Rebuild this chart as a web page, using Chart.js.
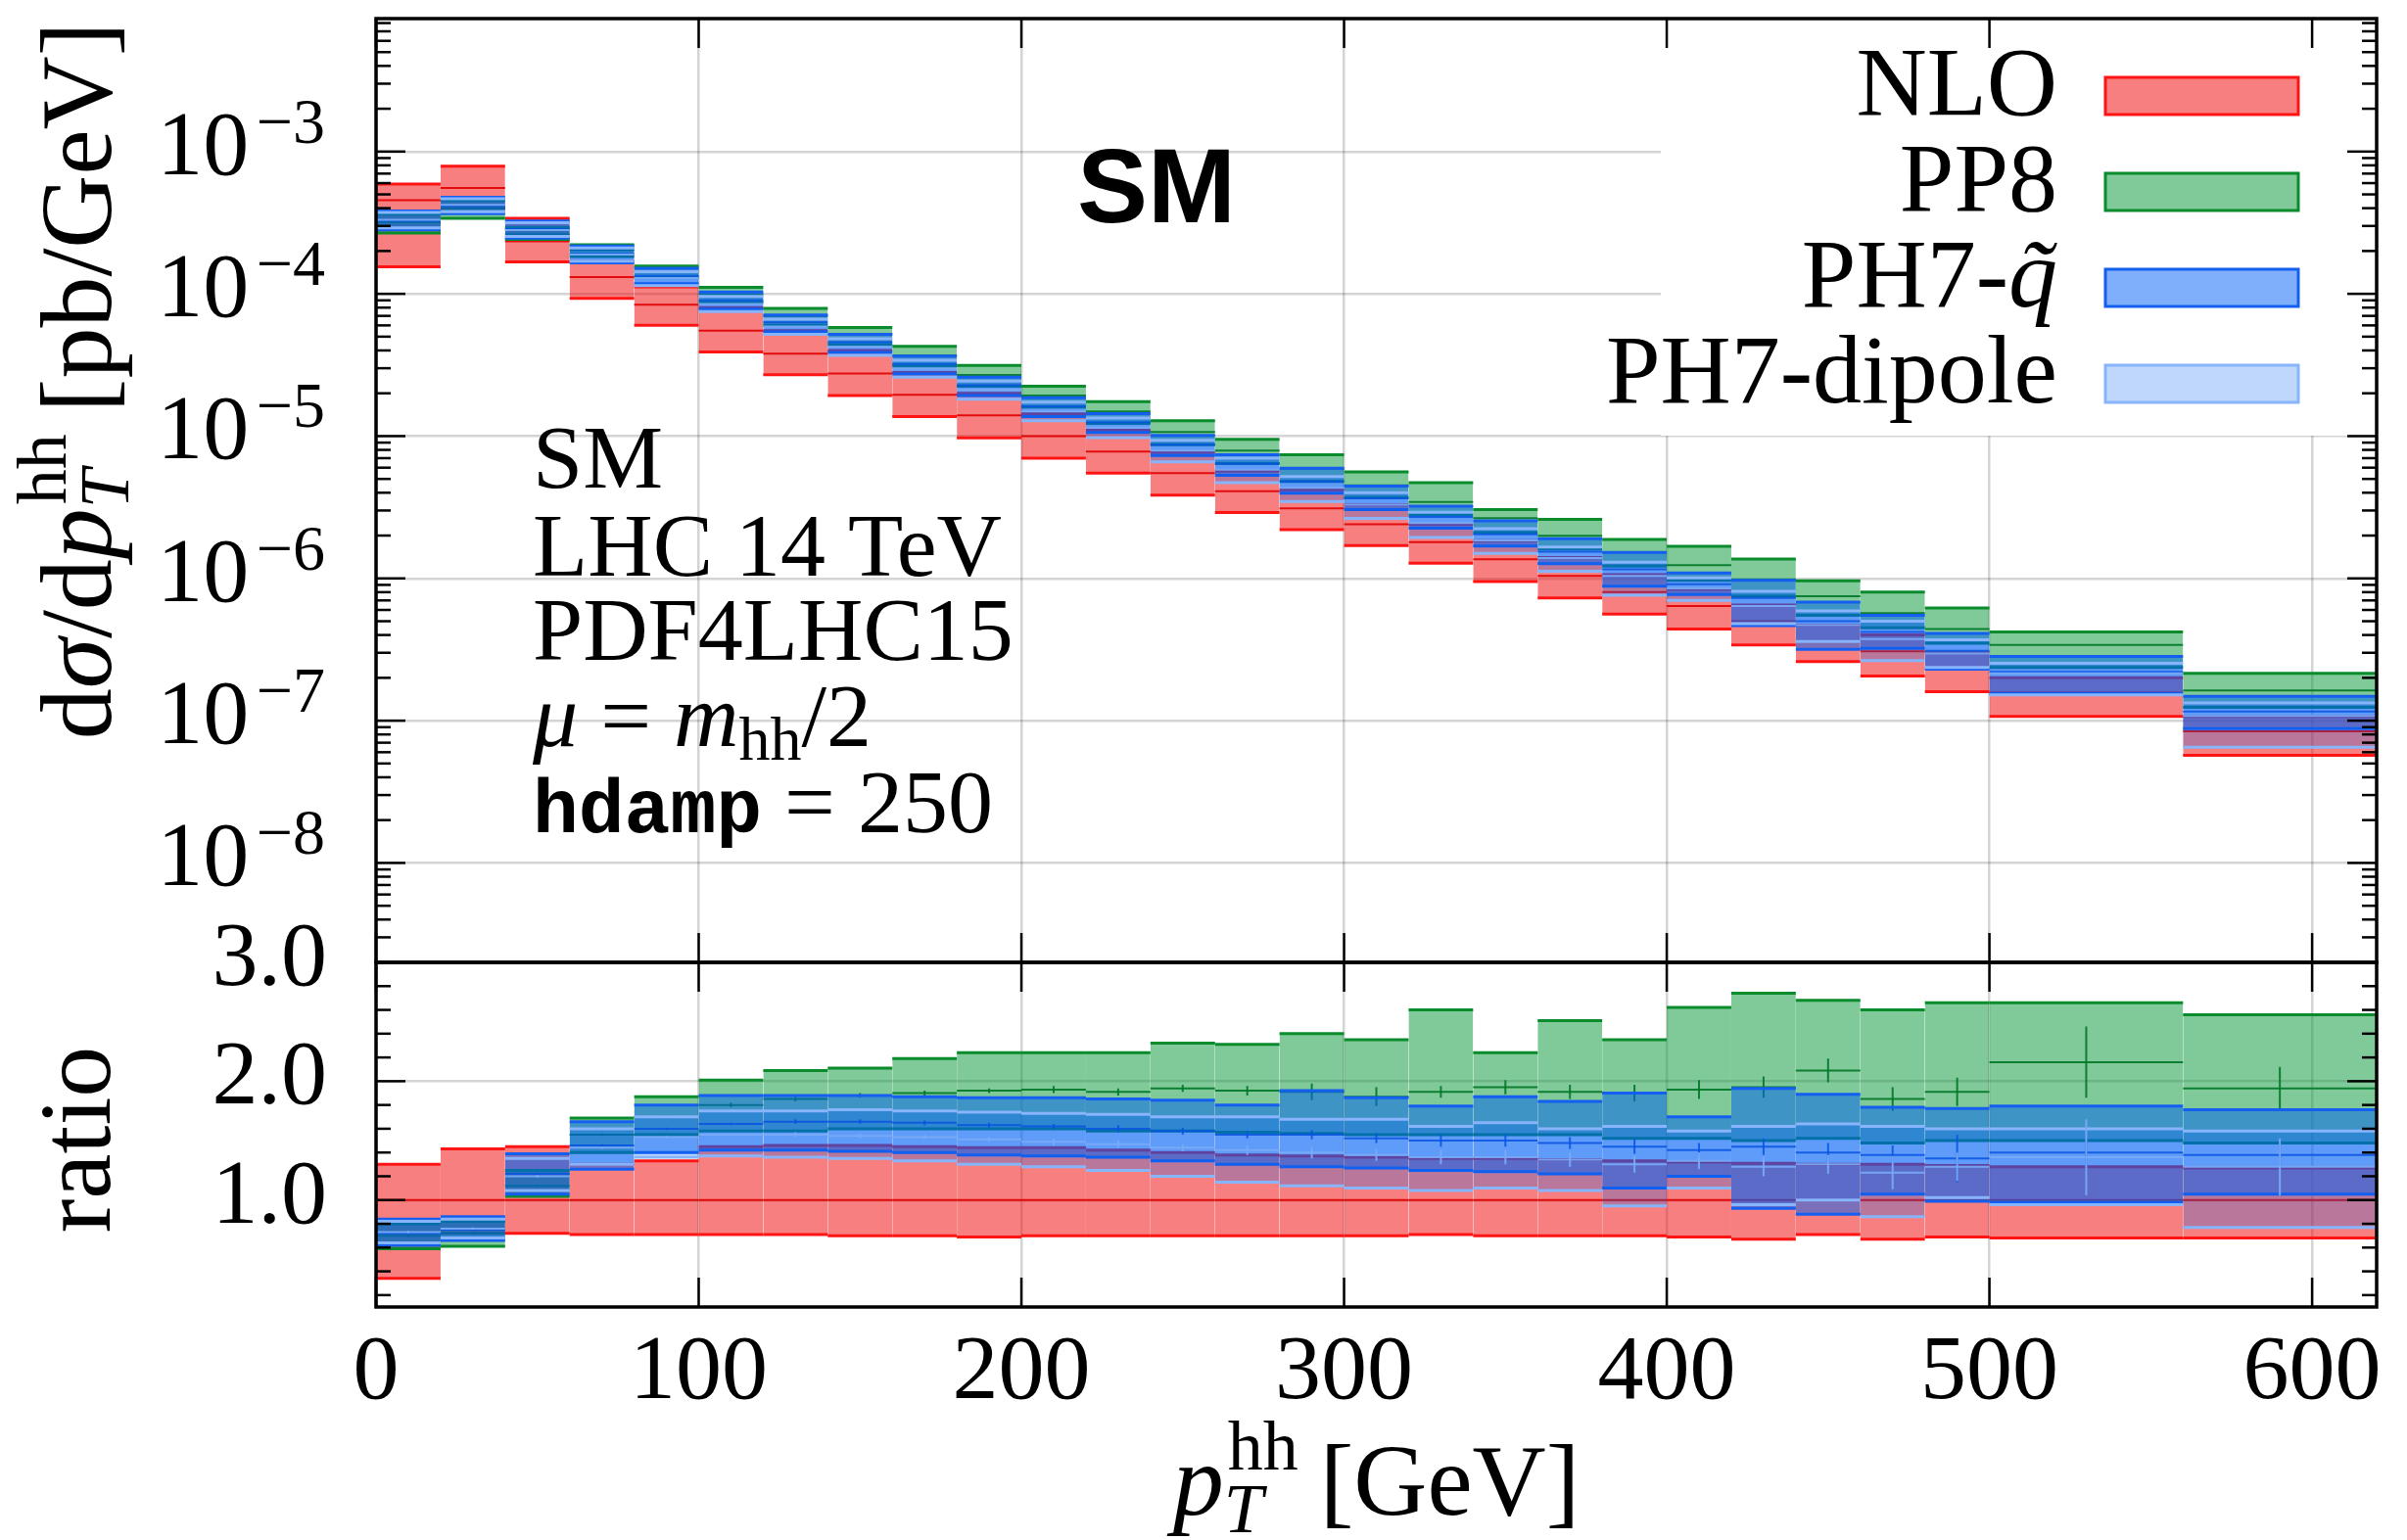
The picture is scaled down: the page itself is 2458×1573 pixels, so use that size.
<!DOCTYPE html>
<html>
<head>
<meta charset="utf-8">
<script src="https://cdn.jsdelivr.net/npm/chart.js@4.4.1/dist/chart.umd.min.js"></script>
<style>
  html, body { margin: 0; padding: 0; background: #fff; }
  #wrap { width: 2458px; height: 1573px; }
</style>
</head>
<body>
<div id="wrap"><canvas id="chart"></canvas></div>
<script>
// bin edges in GeV (27 bins)
const binEdges = [0,20,40,60,80,100,120,140,160,180,200,220,240,260,280,300,320,340,360,380,400,420,440,460,480,500,560,620];

// upper panel: dsigma/dpT [pb/GeV]
const nloCentral = [4.55e-4,5.55e-4,2.34e-4,1.31e-4,8.4e-5,5.5e-5,3.8e-5,2.75e-5,1.95e-5,1.4e-5,1.0e-5,7.8e-6,5.5e-6,4.1e-6,3.1e-6,2.4e-6,1.8e-6,1.36e-6,1.04e-6,8.0e-7,6.4e-7,5.0e-7,3.6e-7,3.07e-7,2.32e-7,1.58e-7,8.4e-8];
const nloUp      = [5.9e-4,7.9e-4,3.4e-4,1.7e-4,1.12e-4,8.0e-5,5.5e-5,4.0e-5,2.8e-5,2.0e-5,1.44e-5,1.1e-5,7.7e-6,5.7e-6,4.2e-6,3.3e-6,2.4e-6,1.84e-6,1.4e-6,1.06e-6,8.4e-7,6.5e-7,4.7e-7,4.0e-7,3.0e-7,2.0e-7,1.07e-7];
const nloDown    = [1.55e-4,4.0e-4,1.68e-4,9.3e-5,6.0e-5,3.9e-5,2.7e-5,1.93e-5,1.37e-5,9.7e-6,7.0e-6,5.5e-6,3.85e-6,2.9e-6,2.2e-6,1.7e-6,1.28e-6,9.5e-7,7.3e-7,5.6e-7,4.4e-7,3.4e-7,2.6e-7,2.06e-7,1.6e-7,1.07e-7,5.7e-8];

const pp8Central = [3.19e-4,4.0e-4,2.62e-4,2.03e-4,1.43e-4,9.9e-5,7.0e-5,5.2e-5,3.7e-5,2.69e-5,1.93e-5,1.49e-5,1.07e-5,7.9e-6,5.9e-6,4.5e-6,3.44e-6,2.65e-6,1.99e-6,1.52e-6,1.24e-6,9.8e-7,7.5e-7,5.7e-7,4.4e-7,3.4e-7,1.63e-7];
const pp8Up      = [3.64e-4,4.55e-4,2.93e-4,2.21e-4,1.57e-4,1.11e-4,7.9e-5,5.8e-5,4.27e-5,3.14e-5,2.24e-5,1.75e-5,1.28e-5,9.5e-6,7.4e-6,5.6e-6,4.7e-6,3.05e-6,2.6e-6,1.88e-6,1.68e-6,1.37e-6,9.6e-7,8.0e-7,6.2e-7,4.2e-7,2.15e-7];
const pp8Down    = [2.68e-4,3.39e-4,2.41e-4,1.83e-4,1.30e-4,8.7e-5,6.0e-5,4.4e-5,3.12e-5,2.24e-5,1.6e-5,1.23e-5,8.7e-6,6.4e-6,4.8e-6,3.7e-6,2.8e-6,2.1e-6,1.61e-6,1.22e-6,9.7e-7,7.5e-7,5.5e-7,4.5e-7,3.5e-7,2.37e-7,1.24e-7];

const ph7qCentral = [3.28e-4,4.16e-4,2.85e-4,1.91e-4,1.34e-4,9.0e-5,6.3e-5,4.57e-5,3.22e-5,2.28e-5,1.62e-5,1.25e-5,8.7e-6,6.4e-6,4.8e-6,3.65e-6,2.7e-6,2.04e-6,1.54e-6,1.16e-6,9.1e-7,7.3e-7,5.0e-7,4.2e-7,3.1e-7,2.2e-7,1.16e-7];
const ph7qUp      = [3.82e-4,4.77e-4,3.25e-4,2.17e-4,1.51e-4,1.03e-4,7.1e-5,5.2e-5,3.65e-5,2.6e-5,1.86e-5,1.44e-5,1.01e-5,7.4e-6,5.95e-6,4.46e-6,3.22e-6,2.54e-6,1.9e-6,1.52e-6,1.09e-6,9.7e-7,6.8e-7,5.5e-7,4.1e-7,2.83e-7,1.48e-7];
const ph7qDown    = [2.82e-4,3.66e-4,2.46e-4,1.65e-4,1.18e-4,7.8e-5,5.4e-5,3.88e-5,2.73e-5,1.93e-5,1.37e-5,1.06e-5,7.3e-6,5.3e-6,3.97e-6,3.05e-6,2.25e-6,1.69e-6,1.27e-6,8.8e-7,7.7e-7,4.65e-7,3.17e-7,3.22e-7,2.3e-7,1.55e-7,8.8e-8];

const ph7dCentral = [3.32e-4,4.22e-4,2.81e-4,1.89e-4,1.29e-4,8.5e-5,5.9e-5,4.24e-5,2.98e-5,2.11e-5,1.49e-5,1.15e-5,7.9e-6,5.8e-6,4.34e-6,3.3e-6,2.45e-6,1.85e-6,1.39e-6,1.04e-6,8.5e-7,6.4e-7,4.7e-7,3.75e-7,2.97e-7,2.15e-7,1.08e-7];
const ph7dUp      = [3.73e-4,4.66e-4,3.16e-4,2.1e-4,1.43e-4,9.6e-5,6.65e-5,4.84e-5,3.41e-5,2.44e-5,1.73e-5,1.34e-5,9.35e-6,7.0e-6,5.2e-6,4.0e-6,2.92e-6,2.24e-6,1.66e-6,1.3e-6,1.01e-6,8.1e-7,5.9e-7,5.0e-7,3.7e-7,2.53e-7,1.33e-7];
const ph7dDown    = [2.91e-4,3.77e-4,2.53e-4,1.7e-4,1.14e-4,7.5e-5,5.2e-5,3.7e-5,2.6e-5,1.82e-5,1.28e-5,9.75e-6,6.6e-6,4.7e-6,3.47e-6,2.64e-6,1.94e-6,1.5e-6,1.12e-6,7.6e-7,7.0e-7,4.8e-7,3.6e-7,2.64e-7,2.37e-7,1.52e-7,6.5e-8];

// lower panel: ratio to NLO central
const nloRatioCentral = [1,1,1,1,1,1,1,1,1,1,1,1,1,1,1,1,1,1,1,1,1,1,1,1,1,1,1];
const nloRatioUp      = [1.30,1.43,1.45,1.30,1.33,1.45,1.46,1.46,1.45,1.44,1.44,1.42,1.40,1.38,1.37,1.36,1.35,1.35,1.34,1.33,1.32,1.31,1.30,1.30,1.29,1.28,1.27];
const nloRatioDown    = [0.34,0.72,0.72,0.71,0.71,0.71,0.71,0.70,0.70,0.69,0.70,0.70,0.70,0.70,0.70,0.70,0.71,0.70,0.70,0.70,0.69,0.67,0.71,0.67,0.69,0.68,0.68];

const pp8RatioCentral = [0.70,0.72,1.12,1.55,1.70,1.80,1.85,1.88,1.90,1.92,1.93,1.91,1.94,1.92,1.91,1.87,1.91,1.95,1.91,1.90,1.93,1.95,2.09,1.85,1.91,2.16,1.94];
const pp8RatioUp      = [0.80,0.82,1.25,1.69,1.87,2.01,2.09,2.11,2.19,2.24,2.24,2.24,2.32,2.31,2.40,2.35,2.60,2.24,2.51,2.35,2.62,2.74,2.68,2.60,2.66,2.66,2.56];
const pp8RatioDown    = [0.59,0.61,1.03,1.40,1.55,1.58,1.58,1.60,1.60,1.60,1.60,1.58,1.58,1.57,1.56,1.55,1.55,1.55,1.55,1.52,1.52,1.50,1.52,1.48,1.50,1.50,1.48];
const pp8RatioErr     = [0.01,0.01,0.01,0.01,0.01,0.02,0.02,0.02,0.02,0.02,0.03,0.03,0.03,0.04,0.07,0.08,0.05,0.06,0.06,0.07,0.08,0.09,0.10,0.10,0.12,0.30,0.18];

const ph7qRatioCentral = [0.72,0.75,1.22,1.46,1.60,1.64,1.66,1.66,1.65,1.63,1.62,1.60,1.58,1.55,1.55,1.52,1.50,1.50,1.48,1.45,1.42,1.45,1.40,1.38,1.35,1.40,1.38];
const ph7qRatioUp      = [0.84,0.86,1.39,1.66,1.80,1.88,1.88,1.88,1.87,1.86,1.86,1.85,1.84,1.80,1.92,1.86,1.79,1.87,1.83,1.90,1.70,1.94,1.89,1.78,1.77,1.79,1.76];
const ph7qRatioDown    = [0.62,0.66,1.05,1.26,1.40,1.42,1.42,1.41,1.40,1.38,1.37,1.36,1.33,1.30,1.28,1.27,1.25,1.24,1.22,1.10,1.20,0.93,0.88,1.05,0.99,0.98,1.05];
const ph7qRatioErr     = [0.01,0.01,0.01,0.01,0.01,0.01,0.02,0.02,0.02,0.02,0.02,0.03,0.03,0.03,0.04,0.04,0.05,0.05,0.05,0.06,0.06,0.07,0.08,0.08,0.20,0.12,0.12];

const ph7dRatioCentral = [0.73,0.76,1.20,1.44,1.53,1.55,1.55,1.54,1.53,1.51,1.49,1.47,1.44,1.42,1.40,1.38,1.36,1.36,1.34,1.30,1.33,1.28,1.30,1.23,1.28,1.36,1.28];
const ph7dRatioUp      = [0.82,0.84,1.35,1.60,1.70,1.75,1.75,1.76,1.75,1.74,1.73,1.72,1.70,1.70,1.68,1.68,1.62,1.65,1.60,1.62,1.58,1.62,1.64,1.62,1.60,1.60,1.58];
const ph7dRatioDown    = [0.64,0.68,1.08,1.30,1.36,1.37,1.36,1.35,1.33,1.30,1.28,1.25,1.20,1.15,1.12,1.10,1.08,1.10,1.08,0.95,1.10,0.96,1.00,0.86,1.02,0.96,0.77];
const ph7dRatioErr     = [0.01,0.01,0.01,0.01,0.01,0.01,0.02,0.02,0.02,0.02,0.03,0.03,0.03,0.04,0.05,0.05,0.06,0.06,0.06,0.07,0.07,0.08,0.08,0.14,0.12,0.32,0.24];

// axes
const xTicks = [0,100,200,300,400,500,600];
const decadeExps = [-8,-7,-6,-5,-4,-3];
const ratioTicks = [1,2,3];

const seriesNames = ['NLO','PP8','PH7-q\u0303','PH7-dipole'];
const fillColors = ['rgba(240,0,0,0.5)','rgba(0,150,50,0.5)','rgba(0,95,245,0.5)','rgba(0,95,245,0.25)'];
const edgeColors = ['rgb(255,20,20)','rgb(10,140,45)','rgb(20,95,240)','rgb(135,180,250)'];
const midColors  = ['rgba(225,0,0,0.9)','rgba(0,120,40,0.9)','rgba(10,80,220,0.85)','rgba(120,170,245,0.95)'];

const SERIF = '"Liberation Serif", "DejaVu Serif", serif';
const fnt = (s, st) => (st ? st + ' ' : '') + s + 'px ' + SERIF;

function steps(vals) {
  const pts = [];
  vals.forEach((v, i) => { pts.push({x: binEdges[i], y: v}, {x: binEdges[i + 1], y: v}); });
  return pts;
}
function errBars(cen, err) {
  const pts = [];
  cen.forEach((c, i) => {
    const m = (binEdges[i] + binEdges[i + 1]) / 2;
    pts.push({x: m, y: c - err[i]}, {x: m, y: c + err[i]}, {x: m, y: null});
  });
  return pts;
}
const horiz = col => ({ borderColor: ctx => ctx.p0.parsed.x === ctx.p1.parsed.x ? 'rgba(0,0,0,0)' : col });

const topSets = [
  [nloUp, nloDown, nloCentral],
  [pp8Up, pp8Down, pp8Central],
  [ph7qUp, ph7qDown, ph7qCentral],
  [ph7dUp, ph7dDown, ph7dCentral]
];
const ratioSets = [
  [nloRatioUp, nloRatioDown, nloRatioCentral, null],
  [pp8RatioUp, pp8RatioDown, pp8RatioCentral, pp8RatioErr],
  [ph7qRatioUp, ph7qRatioDown, ph7qRatioCentral, ph7qRatioErr],
  [ph7dRatioUp, ph7dRatioDown, ph7dRatioCentral, ph7dRatioErr]
];

const datasets = [];
function addSeries(k, set, axis) {
  const base = (4 - k) * 10;
  const common = { yAxisID: axis, pointRadius: 0, tension: 0, borderWidth: 3 };
  datasets.push(Object.assign({}, common, { label: seriesNames[k], data: steps(set[0]), fill: '+1',
    backgroundColor: fillColors[k], borderColor: edgeColors[k], segment: horiz(edgeColors[k]), order: base + 0.5 }));
  datasets.push(Object.assign({}, common, { label: seriesNames[k], data: steps(set[1]), fill: false,
    borderColor: edgeColors[k], segment: horiz(edgeColors[k]), order: base }));
  datasets.push(Object.assign({}, common, { label: seriesNames[k], data: steps(set[2]), fill: false, borderWidth: 2,
    borderColor: midColors[k], segment: horiz(midColors[k]), order: base - 1 }));
  if (set[3]) {
    datasets.push(Object.assign({}, common, { label: seriesNames[k], data: errBars(set[2], set[3]), fill: false,
      borderWidth: 2, borderColor: midColors[k], spanGaps: false, order: base - 2 }));
  }
}
topSets.forEach((s, k) => addSeries(k, s, 'y'));
ratioSets.forEach((s, k) => addSeries(k, s, 'y2'));

function partWidth(ctx, p) {
  if (p.stack) return Math.max(...p.stack.map(q => partWidth(ctx, q)));
  ctx.font = p.f;
  return ctx.measureText(p.t).width;
}
function drawParts(ctx, parts, x, y, align) {
  const w = parts.reduce((s, p) => s + partWidth(ctx, p), 0);
  let cx = align === 'center' ? x - w / 2 : (align === 'right' ? x - w : x);
  ctx.textAlign = 'left';
  ctx.textBaseline = 'alphabetic';
  for (const p of parts) {
    if (p.stack) {
      p.stack.forEach(q => { ctx.font = q.f; ctx.fillText(q.t, cx + (q.dx || 0), y + (q.dy || 0)); });
    } else {
      ctx.font = p.f;
      ctx.fillText(p.t, cx, y + (p.dy || 0));
    }
    cx += partWidth(ctx, p);
  }
}

const decor = {
  id: 'decor',
  afterDatasetsDraw(chart) {
    const { ctx, chartArea: a, scales } = chart;
    const yT = scales.y, yR = scales.y2, xs = scales.x;
    ctx.save();
    ctx.fillStyle = '#000';

    // legend (opaque box, top right)
    ctx.fillStyle = '#fff';
    ctx.fillRect(a.right - 731, a.top, 731, 426);
    seriesNames.forEach((name, i) => {
      const cy = a.top + 79 + 98 * i;
      ctx.fillStyle = '#fff';
      ctx.fillRect(a.right - 277, cy - 19, 197, 38);
      ctx.fillStyle = fillColors[i];
      ctx.fillRect(a.right - 277, cy - 19, 197, 38);
      ctx.strokeStyle = edgeColors[i];
      ctx.lineWidth = 3;
      ctx.strokeRect(a.right - 277, cy - 19, 197, 38);
      ctx.fillStyle = '#000';
      const parts = name.indexOf('-q') > 0
        ? [{ t: name.split('-')[0] + '-', f: fnt(100) }, { t: name.split('-')[1], f: fnt(100, 'italic') }]
        : [{ t: name, f: fnt(100) }];
      drawParts(ctx, parts, a.right - 326, cy + 19, 'right');
    });

    // labels inside the upper panel
    ctx.fillStyle = '#000';
    ctx.font = 'bold 108px "Liberation Sans", Arial, sans-serif';
    ctx.textAlign = 'center';
    ctx.textBaseline = 'alphabetic';
    ctx.fillText('SM', a.left + 797, a.top + 208);

    const ix = a.left + 160;
    drawParts(ctx, [{ t: 'SM', f: fnt(92) }], ix, a.top + 479, 'left');
    drawParts(ctx, [{ t: 'LHC 14 TeV', f: fnt(92) }], ix, a.top + 569, 'left');
    drawParts(ctx, [{ t: 'PDF4LHC15', f: fnt(92) }], ix, a.top + 655, 'left');
    drawParts(ctx, [{ t: '\u03bc', f: fnt(92, 'italic') }, { t: ' = ', f: fnt(92) }, { t: 'm', f: fnt(92, 'italic') },
      { t: 'hh', f: fnt(64), dy: 14 }, { t: '/2', f: fnt(92) }], ix, a.top + 743, 'left');
    drawParts(ctx, [{ t: 'hdamp', f: 'bold 78px "Liberation Mono", monospace' }, { t: ' = 250', f: fnt(92) }], ix, a.top + 831, 'left');

    // tick marks (pointing inwards)
    ctx.strokeStyle = '#000';
    ctx.lineWidth = 2.5;
    const seg = (x0, y0, x1, y1) => { ctx.beginPath(); ctx.moveTo(x0, y0); ctx.lineTo(x1, y1); ctx.stroke(); };
    for (let e = decadeExps[0] - 1; e <= decadeExps[decadeExps.length - 1]; e++) {
      for (let m = 1; m < 10; m++) {
        const v = m * Math.pow(10, e);
        if (v < yT.min || v > yT.max) continue;
        const py = yT.getPixelForValue(v);
        const len = m === 1 ? 30 : 15;
        seg(a.left, py, a.left + len, py);
        seg(a.right, py, a.right - len, py);
      }
    }
    for (let k = 1; k < 15; k++) {
      const v = k * 0.2;
      const py = yR.getPixelForValue(v);
      const len = (k % 5 === 0) ? 30 : 15;
      seg(a.left, py, a.left + len, py);
      seg(a.right, py, a.right - len, py);
    }
    xTicks.forEach(v => {
      const px = xs.getPixelForValue(v);
      seg(px, yT.top, px, yT.top + 30);
      seg(px, yT.bottom, px, yT.bottom - 30);
      seg(px, yR.top, px, yR.top + 30);
      seg(px, yR.bottom, px, yR.bottom - 30);
    });

    // frames
    ctx.lineWidth = 3.5;
    ctx.strokeRect(a.left, yT.top, a.right - a.left, yT.bottom - yT.top);
    ctx.strokeRect(a.left, yR.top, a.right - a.left, yR.bottom - yR.top);

    // y tick labels
    ctx.fillStyle = '#000';
    decadeExps.forEach(e => {
      const py = yT.getPixelForValue(Math.pow(10, e));
      drawParts(ctx, [{ t: '10', f: fnt(94) }, { t: ' ', f: fnt(30) }, { t: '\u2212' + Math.abs(e), f: fnt(66), dy: -32 }],
        a.left - 52, py + 23, 'right');
    });
    ratioTicks.forEach(v => {
      const py = yR.getPixelForValue(v);
      drawParts(ctx, [{ t: v.toFixed(1), f: fnt(94) }], a.left - 50, py + 23, 'right');
    });

    // axis titles
    ctx.save();
    ctx.translate(a.left - 271, a.top + 370);
    ctx.rotate(-Math.PI / 2);
    drawParts(ctx, [{ t: 'd', f: fnt(104) }, { t: '\u03c3', f: fnt(104, 'italic') }, { t: '/d', f: fnt(104) },
      { t: 'p', f: fnt(104, 'italic') },
      { stack: [{ t: 'T', f: fnt(72, 'italic'), dy: 18 }, { t: 'hh', f: fnt(72), dy: -46, dx: 4 }] },
      { t: ' [pb/GeV]', f: fnt(104) }], 0, 0, 'center');
    ctx.restore();

    ctx.save();
    ctx.translate(a.left - 272, (yR.top + yR.bottom) / 2 + 5);
    ctx.rotate(-Math.PI / 2);
    drawParts(ctx, [{ t: 'ratio', f: fnt(104) }], 0, 0, 'center');
    ctx.restore();

    drawParts(ctx, [{ t: 'p', f: fnt(104, 'italic') },
      { stack: [{ t: 'T', f: fnt(72, 'italic'), dy: 18 }, { t: 'hh', f: fnt(72), dy: -46, dx: 4 }] },
      { t: ' [GeV]', f: fnt(104) }], (a.left + a.right) / 2, a.bottom + 212, 'center');

    ctx.restore();
  }
};

const gridCol = 'rgba(0,0,0,0.17)';
new Chart(document.getElementById('chart'), {
  type: 'line',
  data: { datasets: datasets },
  options: {
    responsive: true,
    maintainAspectRatio: false,
    devicePixelRatio: 1,
    animation: false,
    events: [],
    layout: { padding: { left: 384, right: 31, top: 19, bottom: 0 } },
    plugins: { legend: { display: false }, tooltip: { enabled: false } },
    scales: {
      x: {
        type: 'linear', min: 0, max: 620,
        afterBuildTicks: s => { s.ticks = xTicks.map(v => ({ value: v })); },
        afterFit: s => { s.height = 238; },
        ticks: { font: { family: SERIF, size: 94 }, color: '#000', padding: 12, maxRotation: 0, autoSkip: false },
        grid: { color: gridCol, lineWidth: 2.5, drawTicks: false },
        border: { display: false }
      },
      y2: {
        type: 'linear', min: 0.1, max: 3.0, position: 'left', stack: 'panels', stackWeight: 352,
        afterBuildTicks: s => { s.ticks = ratioTicks.map(v => ({ value: v })); },
        afterFit: s => { s.width = 0; },
        ticks: { display: false },
        grid: { color: gridCol, lineWidth: 2.5, drawTicks: false },
        border: { display: false }
      },
      y: {
        type: 'logarithmic', min: 2.0e-9, max: 8.6e-3, position: 'left', stack: 'panels', stackWeight: 964,
        afterBuildTicks: s => { s.ticks = decadeExps.map(e => ({ value: Math.pow(10, e) })); },
        afterFit: s => { s.width = 0; },
        ticks: { display: false },
        grid: { color: gridCol, lineWidth: 2.5, drawTicks: false },
        border: { display: false }
      }
    }
  },
  plugins: [decor]
});
</script>
</body>
</html>
